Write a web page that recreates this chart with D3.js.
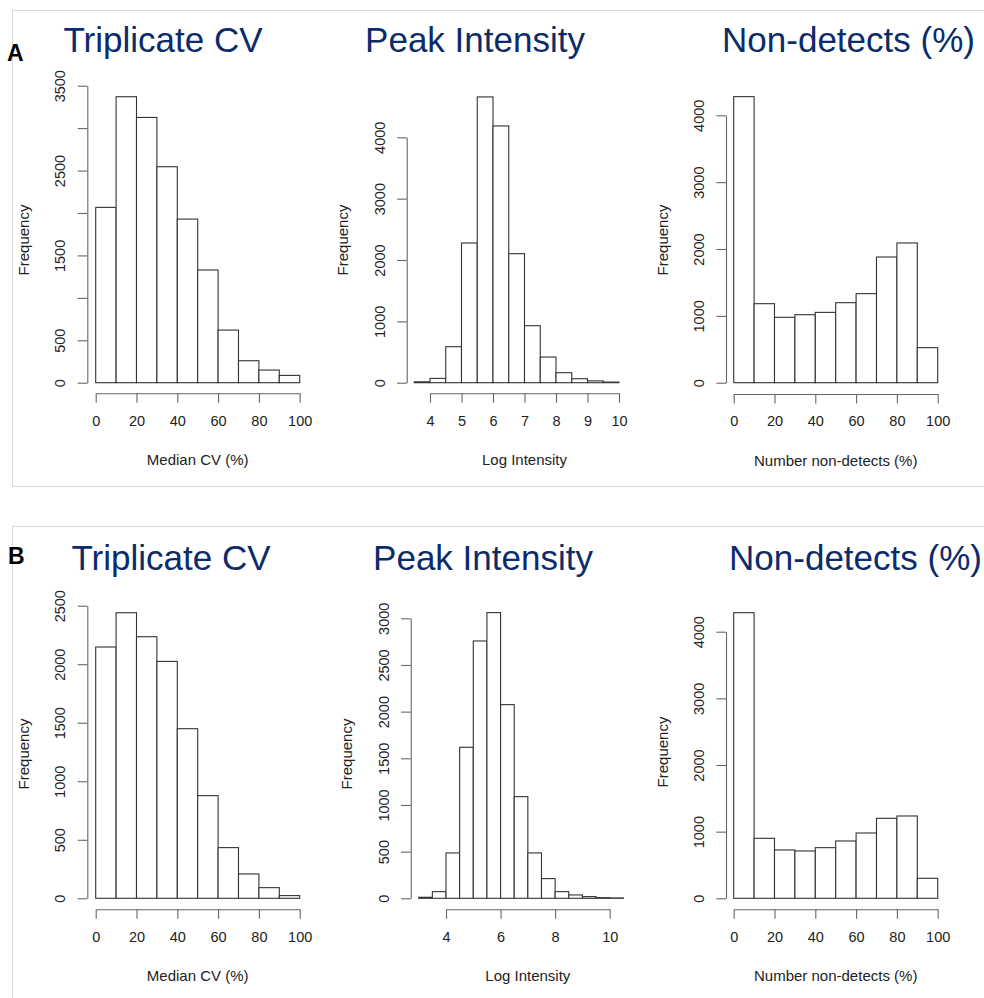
<!DOCTYPE html>
<html>
<head>
<meta charset="utf-8">
<script src="https://cdn.jsdelivr.net/npm/d3@7"></script>
<style>
  body { margin: 0; background: #fff; }
  svg { display: block; font-family: "Liberation Sans", Arial, sans-serif; }
  .tick text { fill: #222; }
</style>
</head>
<body>
<div id="chart"></div>
<script>
const WIDTH = 984
const HEIGHT = 998

// histogram counts (bins left to right)
var aCvCounts  = [2066, 3370, 3126, 2545, 1928, 1328, 620, 259, 149, 86]
var aIntCounts = [15, 70, 587, 2277, 4658, 4185, 2103, 929, 418, 163, 65, 30, 10]
var aNdCounts  = [4279, 1182, 978, 1017, 1052, 1197, 1332, 1880, 2090, 524]
var bCvCounts  = [2147, 2440, 2235, 2024, 1449, 877, 433, 208, 91, 23]
var bIntCounts = [11, 71, 486, 1618, 2757, 3061, 2075, 1089, 486, 211, 71, 36, 18, 7, 4]
var bNdCounts  = [4285, 900, 725, 710, 760, 860, 980, 1200, 1235, 300]

// tick values
var pctTicks   = [0, 20, 40, 60, 80, 100]
var aIntXTicks = [4, 5, 6, 7, 8, 9, 10]
var bIntXTicks = [4, 6, 8, 10]
var aCvYTicks  = [0, 500, 1000, 1500, 2000, 2500, 3000, 3500]
var aCvYLabels = [0, 500, 1500, 2500, 3500]
var k4Ticks    = [0, 1000, 2000, 3000, 4000]
var bCvYTicks  = [0, 500, 1000, 1500, 2000, 2500]
var bIntYTicks = [0, 500, 1000, 1500, 2000, 2500, 3000]

var titles = ["Triplicate CV", "Peak Intensity", "Non-detects (%)"]
var xlabels = ["Median CV (%)", "Log Intensity", "Number non-detects (%)"]

// layout of each panel (pixels)
var panels = [
  {counts: aCvCounts, start: 0, step: 10, xt: pctTicks, xd: [0, 100], xr: [95.7, 299.7],
   yt: aCvYTicks, yl: aCvYLabels, yd: [0, 3500], yr: [382.7, 85.7], ax: 87.3, xAxisY: 393.3,
   title: titles[0], tx: 163, ty: 52, xlab: xlabels[0], ylabY: 240},
  {counts: aIntCounts, start: 3.5, step: 0.5, xt: aIntXTicks, xd: [4, 10], xr: [430, 619],
   yt: k4Ticks, yl: k4Ticks, yd: [0, 4000], yr: [382.7, 137.3], ax: 406.7, xAxisY: 393.3,
   title: titles[1], tx: 475, ty: 52, xlab: xlabels[1], ylabY: 240},
  {counts: aNdCounts, start: 0, step: 10, xt: pctTicks, xd: [0, 100], xr: [733.7, 937.7],
   yt: k4Ticks, yl: k4Ticks, yd: [0, 4000], yr: [382.7, 115.3], ax: 726, xAxisY: 394,
   title: titles[2], tx: 848.5, ty: 52, xlab: xlabels[2], ylabY: 240},
  {counts: bCvCounts, start: 0, step: 10, xt: pctTicks, xd: [0, 100], xr: [95.7, 299.7],
   yt: bCvYTicks, yl: bCvYTicks, yd: [0, 2500], yr: [898.3, 605.7], ax: 87.3, xAxisY: 909.3,
   title: titles[0], tx: 171, ty: 570, xlab: xlabels[0], ylabY: 754},
  {counts: bIntCounts, start: 3, step: 0.5, xt: bIntXTicks, xd: [4, 10], xr: [446, 609.7],
   yt: bIntYTicks, yl: bIntYTicks, yd: [0, 3000], yr: [898.3, 618.3], ax: 410.7, xAxisY: 909.3,
   title: titles[1], tx: 483, ty: 570, xlab: xlabels[1], ylabY: 754},
  {counts: bNdCounts, start: 0, step: 10, xt: pctTicks, xd: [0, 100], xr: [733.7, 937.7],
   yt: k4Ticks, yl: k4Ticks, yd: [0, 4000], yr: [898.3, 631.7], ax: 726, xAxisY: 909.3,
   title: titles[2], tx: 855.5, ty: 570, xlab: xlabels[2], ylabY: 752}
]

var svg = d3.select("#chart")
  .append("svg")
  .attr("width", WIDTH)
  .attr("height", HEIGHT)

// light frames around A and B
svg.append("rect")
  .attr("x", 12.5).attr("y", 10.5)
  .attr("width", 990).attr("height", 476)
  .attr("fill", "none").attr("stroke", "#d8d8d8")
svg.append("rect")
  .attr("x", 12.5).attr("y", 526.5)
  .attr("width", 990).attr("height", 500)
  .attr("fill", "none").attr("stroke", "#d8d8d8")

// panel letters
svg.append("text").attr("x", 7).attr("y", 61)
  .style("font-size", "23px").style("font-weight", "bold").text("A")
svg.append("text").attr("x", 8).attr("y", 564)
  .style("font-size", "23px").style("font-weight", "bold").text("B")

function drawPanel(p) {
  var g = svg.append("g")

  var x = d3.scaleLinear().domain(p.xd).range(p.xr)
  var y = d3.scaleLinear().domain(p.yd).range(p.yr)

  // bars
  var bins = p.counts.map(function(c, i) {
    return {x0: p.start + i * p.step, x1: p.start + (i + 1) * p.step, n: c}
  })
  g.selectAll("rect.bar")
    .data(bins)
    .enter()
    .append("rect")
    .attr("class", "bar")
    .attr("x", function(d) { return x(d.x0) })
    .attr("y", function(d) { return y(d.n) })
    .attr("width", function(d) { return x(d.x1) - x(d.x0) })
    .attr("height", function(d) { return y(0) - y(d.n) })
    .attr("fill", "#fff")
    .attr("stroke", "#333")
    .attr("stroke-width", 1.1)

  // x axis
  var xa = g.append("g")
    .attr("transform", "translate(0," + p.xAxisY + ")")
    .call(d3.axisBottom(x).tickValues(p.xt).tickSize(9.5).tickSizeOuter(0).tickPadding(6)
      .tickFormat(d3.format("d")))
  xa.select(".domain").attr("stroke", "#666").attr("stroke-width", 1.1)
  xa.selectAll(".tick line").attr("stroke", "#666").attr("stroke-width", 1.1)
  xa.selectAll(".tick text").style("font-size", "14.5px")
    .attr("y", 22).attr("dy", "0.71em")

  // y axis with rotated labels
  var ya = g.append("g")
    .attr("transform", "translate(" + p.ax + ",0)")
    .call(d3.axisLeft(y).tickValues(p.yt).tickSize(9.6).tickSizeOuter(0)
      .tickFormat(function(d) { return p.yl.indexOf(d) >= 0 ? d : "" }))
  ya.select(".domain").attr("stroke", "#666").attr("stroke-width", 1.1)
  ya.selectAll(".tick line").attr("stroke", "#666").attr("stroke-width", 1.1)
  ya.selectAll(".tick text")
    .style("font-size", "14.5px")
    .attr("x", null).attr("dy", null)
    .attr("text-anchor", "middle")
    .attr("dominant-baseline", "central")
    .attr("transform", "translate(-27,0) rotate(-90)")

  // axis titles
  g.append("text")
    .attr("x", (p.xr[0] + p.xr[1]) / 2 + 0)
    .attr("y", p.xAxisY + 66)
    .attr("text-anchor", "middle")
    .attr("dominant-baseline", "central")
    .style("font-size", "15px")
    .attr("fill", "#222")
    .text(p.xlab)

  g.append("text")
    .attr("transform", "translate(" + (p.ax - 64) + "," + p.ylabY + ") rotate(-90)")
    .attr("text-anchor", "middle")
    .attr("dominant-baseline", "central")
    .style("font-size", "15px")
    .attr("fill", "#222")
    .text("Frequency")

  // panel title
  g.append("text")
    .attr("x", p.tx)
    .attr("y", p.ty)
    .attr("text-anchor", "middle")
    .style("font-size", "35px")
    .attr("fill", "#0c2b6b")
    .text(p.title)
}

panels.forEach(drawPanel)
</script>
</body>
</html>
